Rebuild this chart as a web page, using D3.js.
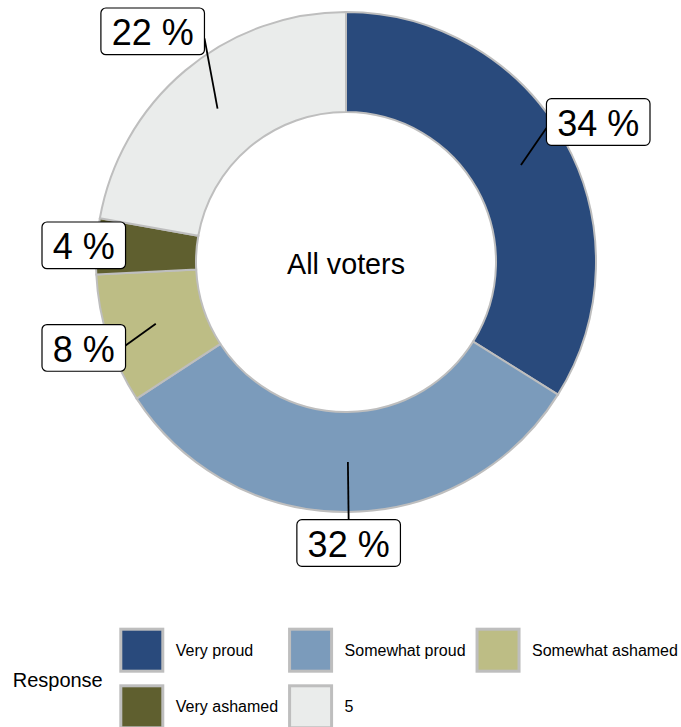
<!DOCTYPE html>
<html>
<head>
<meta charset="utf-8">
<script src="https://cdn.jsdelivr.net/npm/d3@7"></script>
<style>
  html, body { margin: 0; padding: 0; background: #fff; }
  svg { display: block; font-family: "Liberation Sans", Arial, Helvetica, sans-serif; }
</style>
</head>
<body>
<svg id="chart" width="681" height="727"></svg>
<script>
// ---- data ----
const categories = ["Very proud", "Somewhat proud", "Somewhat ashamed", "Very ashamed", "5"];
const shares = [33.9, 31.9, 8.4, 3.6, 22.2];
const colors = ["#294a7c", "#7b9bbb", "#bdbd85", "#5f5f2f", "#eaeceb"];
const centerLabel = "All voters";
const legendTitle = "Response";

// ---- layout ----
const W = 681, H = 727;
const cx = 346, cy = 262;
const rOuter = 250, rInner = 150;
// distance of each label box from the centre (repelled label layout)
const labelDist = [289, 281, 278, 265, 301];
const svg = d3.select("#chart");

const data = categories.map((c, i) => ({ cat: c, value: shares[i], color: colors[i] }));

const pie = d3.pie().sort(null).value(d => d.value).startAngle(0).endAngle(2 * Math.PI);
const arc = d3.arc().innerRadius(rInner).outerRadius(rOuter);
const arcs = pie(data);

const g = svg.append("g").attr("transform", `translate(${cx},${cy})`);
g.selectAll("path.slice")
  .data(arcs)
  .join("path")
  .attr("class", "slice")
  .attr("d", arc)
  .attr("fill", d => d.data.color)
  .attr("stroke", "#bebebe")
  .attr("stroke-width", 2);

// center text
svg.append("text")
  .attr("x", cx)
  .attr("y", cy + 12.3)
  .attr("text-anchor", "middle")
  .attr("font-size", 28.7)
  .attr("fill", "#000")
  .text(centerLabel);

// labels
const labelLayer = svg.append("g");
const fmt = v => Math.round(v) + " %";
arcs.forEach((a, i) => {
  const mid = (a.startAngle + a.endAngle) / 2;
  const px = cx + 200 * Math.sin(mid), py = cy - 200 * Math.cos(mid);
  const txt = labelLayer.append("text")
    .attr("font-size", 36)
    .attr("text-anchor", "middle")
    .attr("fill", "#000")
    .text(fmt(a.data.value));
  const tw = txt.node().getComputedTextLength();
  const bw = tw + 21.5, bh = 46.7;
  const R = labelDist[i];
  let bx = cx + R * Math.sin(mid), by = cy - R * Math.cos(mid);
  bx = Math.max(42 + bw / 2, Math.min(650 - bw / 2, bx));
  by = Math.max(8 + bh / 2, Math.min(H - bh / 2, by));
  const left = bx - bw / 2, right = bx + bw / 2, top = by - bh / 2, bottom = by + bh / 2;
  // segment end: side facing the point, slightly toward the point
  let ex, ey;
  if (px < left) { ex = left; ey = by + Math.max(-6, Math.min(6, (py - by) * 0.15)); }
  else if (px > right) { ex = right; ey = by + Math.max(-7, Math.min(7, (py - by) * 0.1)); }
  else if (py < top) { ex = bx; ey = top; }
  else { ex = bx; ey = bottom; }
  const len = Math.hypot(ex - px, ey - py);
  if (len > 30) {
    labelLayer.insert("line", "text")
      .attr("x1", px).attr("y1", py).attr("x2", ex).attr("y2", ey)
      .attr("stroke", "#000").attr("stroke-width", 1.8);
  }
  labelLayer.insert("rect", "text")
    .attr("x", left).attr("y", top).attr("width", bw).attr("height", bh)
    .attr("rx", 5).attr("ry", 5)
    .attr("fill", "#fff").attr("stroke", "#000").attr("stroke-width", 1.2);
  txt.attr("x", bx).attr("y", by + 14);
  labelLayer.node().appendChild(txt.node());
});

// legend
const legend = svg.append("g");
legend.append("text")
  .attr("x", 12.7).attr("y", 686.7)
  .attr("font-size", 20).attr("fill", "#000")
  .text(legendTitle);

const nCols = 3, keySize = 45, rowTop = [627.7, 684.3];
const textGap = 56.5, colGap = 10;
const measure = svg.append("text").attr("font-size", 16);
const colW = d3.range(nCols).map(c => {
  return d3.max(data.filter((d, i) => i % nCols === c), d => {
    measure.text(d.cat);
    return measure.node().getComputedTextLength();
  });
});
measure.remove();
const colX = [];
let x0 = 119.3;
for (let c = 0; c < nCols; c++) { colX.push(x0); x0 += textGap + colW[c] + colGap; }

data.forEach((d, i) => {
  const c = i % nCols, r = Math.floor(i / nCols);
  const kx = colX[c], ky = rowTop[r];
  legend.append("rect")
    .attr("x", kx + 1.5).attr("y", ky + 1.5)
    .attr("width", keySize - 3).attr("height", keySize - 3)
    .attr("fill", d.color).attr("stroke", "#bebebe").attr("stroke-width", 3);
  legend.append("text")
    .attr("x", kx + textGap).attr("y", ky + keySize / 2 + 5.5)
    .attr("font-size", 16).attr("fill", "#000")
    .text(d.cat);
});
</script>
</body>
</html>
